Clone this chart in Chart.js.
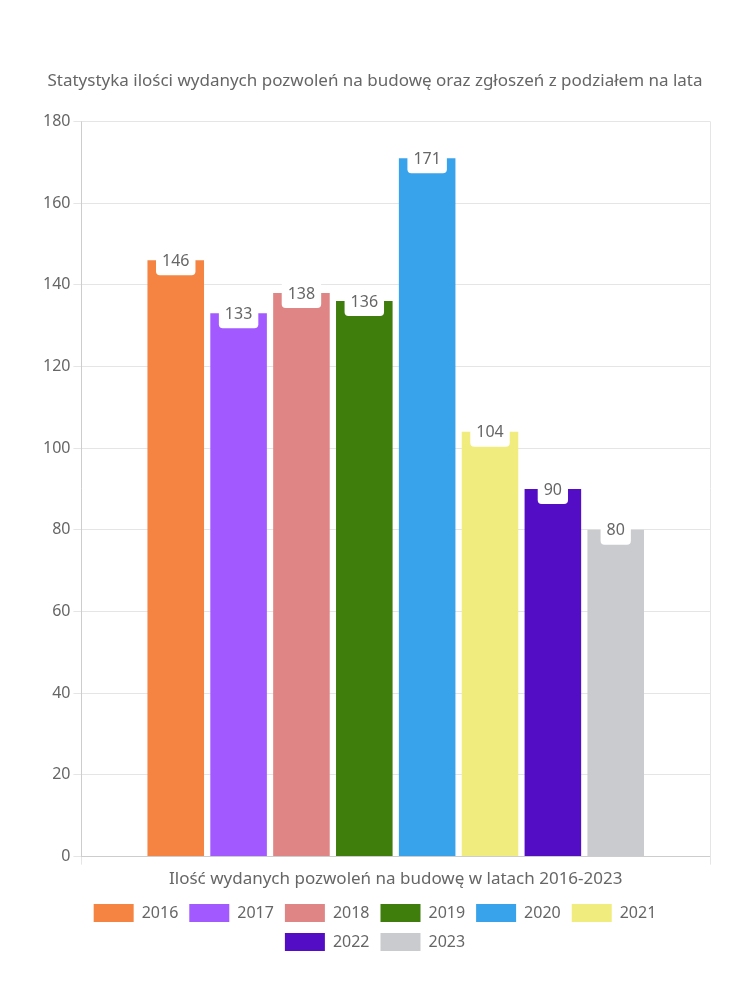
<!DOCTYPE html>
<html>
<head>
<meta charset="utf-8">
<script src="https://cdn.jsdelivr.net/npm/chart.js@4"></script>
<style>
  html, body { margin: 0; padding: 0; background: #fff; }
</style>
</head>
<body>
<canvas id="wykres" width="750" height="1000"></canvas>
<script>
const kategorie = ['Ilość wydanych pozwoleń na budowę w latach 2016-2023'];
const lata = ['2016', '2017', '2018', '2019', '2020', '2021', '2022', '2023'];
const wartosci = [146, 133, 138, 136, 171, 104, 90, 80];
const kolory = ['#F58442', '#A259FF', '#E08585', '#3F7D0C', '#38A3EA', '#F0EC7E', '#520DC5', '#CACBCF'];
const tytul = 'Statystyka ilości wydanych pozwoleń na budowę oraz zgłoszeń z podziałem na lata';

const FONT = "'Noto Sans', sans-serif";
const SZARY = '#666';

// etykiety z wartoscia na gorze slupka
const etykiety = {
    id: 'etykiety',
    afterDatasetsDraw(chart) {
        const ctx = chart.ctx;
        ctx.save();
        ctx.font = '16px ' + FONT;
        ctx.textAlign = 'center';
        ctx.textBaseline = 'middle';
        chart.data.datasets.forEach((ds, i) => {
            const meta = chart.getDatasetMeta(i);
            meta.data.forEach((bar, j) => {
                const txt = String(ds.data[j]);
                const w = ctx.measureText(txt).width + 12;
                const x = bar.x - w / 2;
                const y = bar.y - 12;
                const h = 27;
                ctx.fillStyle = '#fff';
                ctx.beginPath();
                ctx.roundRect(x, y, w, h, 4);
                ctx.fill();
                ctx.fillStyle = SZARY;
                ctx.fillText(txt, bar.x, bar.y + 1);
            });
        });
        ctx.restore();
    }
};

new Chart(document.getElementById('wykres'), {
    type: 'bar',
    data: {
        labels: kategorie,
        datasets: lata.map((rok, i) => ({
            label: rok,
            data: [wartosci[i]],
            backgroundColor: kolory[i],
        }))
    },
    options: {
        responsive: false,
        animation: false,
        layout: { padding: { top: 61, left: 40, right: 40, bottom: 39 } },
        plugins: {
            title: {
                display: true,
                text: tytul,
                color: SZARY,
                font: { family: FONT, size: 17, weight: 'normal' },
                padding: { top: 10, bottom: 30 },
            },
            legend: {
                position: 'bottom',
                labels: {
                    color: SZARY,
                    boxWidth: 40,
                    boxHeight: 18,
                    padding: 11,
                    font: { family: FONT, size: 16 },
                }
            },
            tooltip: { enabled: false },
        },
        scales: {
            x: {
                ticks: { color: SZARY, padding: 4, font: { family: FONT, size: 17 } },
                grid: { color: '#e5e5e5' },
            },
            y: {
                min: 0,
                max: 180,
                ticks: { stepSize: 20, color: SZARY, font: { family: FONT, size: 16 } },
                grid: { color: '#e5e5e5' },
            }
        }
    },
    plugins: [etykiety]
});
</script>
</body>
</html>
